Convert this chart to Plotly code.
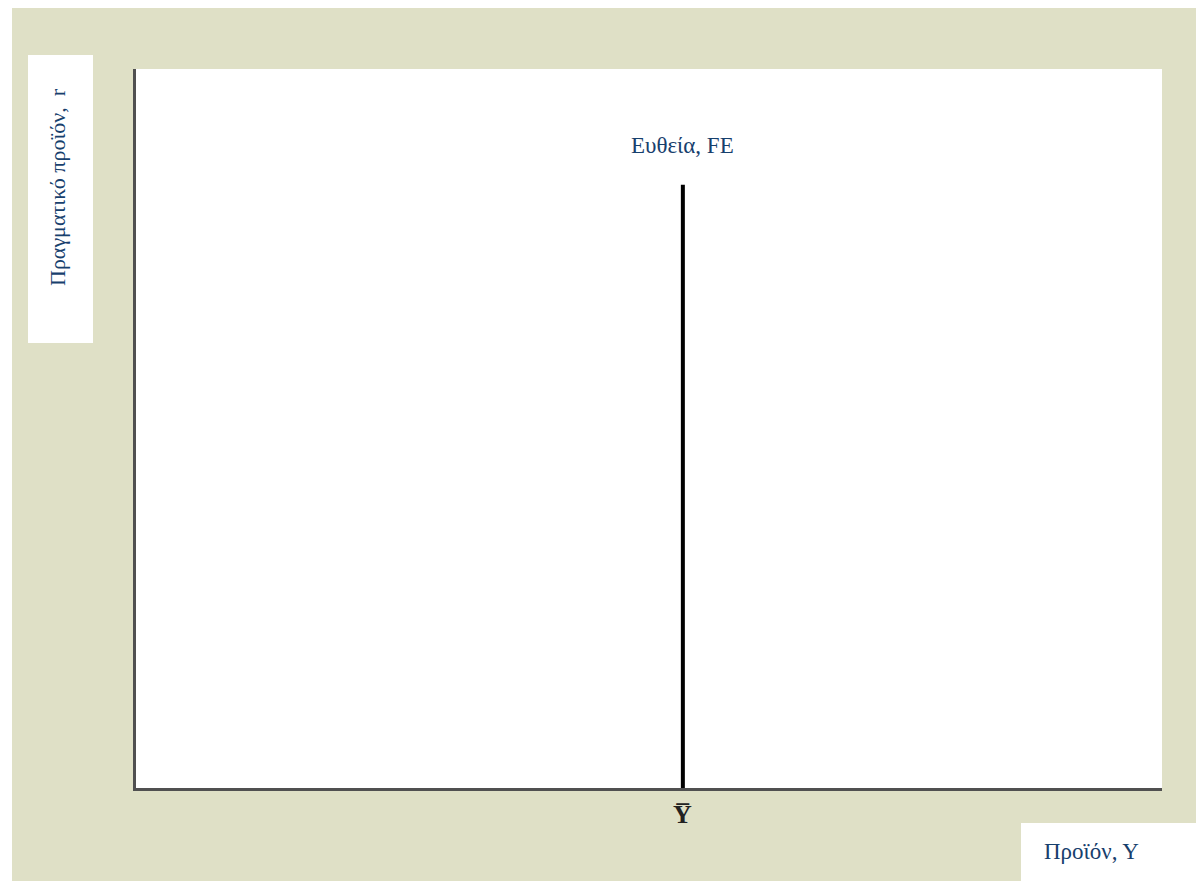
import plotly.graph_objects as go

# Data
y_bar = 5.33            # full-employment output position on the x axis (0-10 scale)
fe_line_x = [y_bar, y_bar]
fe_line_y = [0, 8.39]
fe_label = "Ευθεία, FE"
x_title = "Προϊόν, Υ"
y_title = "Πραγματικό προϊόν,  r"
tick_text = "Y\u0305"

BEIGE = "#DFE0C6"
TXT = "#17406D"
FONT = "Liberation Serif, Times New Roman, serif"

fig = go.Figure()
fig.add_trace(go.Scatter(x=fe_line_x, y=fe_line_y, mode="lines",
                         line=dict(color="#000000", width=4), hoverinfo="skip",
                         showlegend=False))

OFF = 8  # page body margin
W, H = 1204 - OFF, 881 - OFF
L, T = 136 - OFF, 69 - OFF
R = W - (1162 - OFF)
B = H - (788 - OFF)
pw, ph = W - L - R, H - T - B

def px(x):
    return (x - OFF - L) / pw

def py(y):
    return (H - B - (y - OFF)) / ph

shapes = [
    dict(type="rect", xref="paper", yref="paper", x0=px(12), x1=px(1210), y0=py(890), y1=py(7),
         fillcolor=BEIGE, line=dict(width=0), layer="below"),
    dict(type="rect", xref="paper", yref="paper", x0=0, x1=1, y0=0, y1=1,
         fillcolor="#FFFFFF", line=dict(width=0), layer="below"),
    dict(type="rect", xref="paper", yref="paper", x0=px(28), x1=px(93), y0=py(343), y1=py(55),
         fillcolor="#FFFFFF", line=dict(width=0), layer="below"),
    dict(type="rect", xref="paper", yref="paper", x0=px(1021), x1=px(1210), y0=py(890), y1=py(823),
         fillcolor="#FFFFFF", line=dict(width=0), layer="below"),
]

annotations = [
    dict(x=y_bar, xref="x", y=py(145), yref="paper", text=fe_label, showarrow=False,
         font=dict(family=FONT, size=23, color=TXT), xanchor="center", yanchor="middle"),
    dict(x=px(1042), xref="paper", y=py(851), yref="paper", text=x_title, showarrow=False,
         font=dict(family=FONT, size=23, color=TXT), xanchor="left", yanchor="middle"),
    dict(x=px(57), xref="paper", y=py(187), yref="paper", text=y_title, showarrow=False,
         textangle=-90, font=dict(family=FONT, size=22, color=TXT),
         xanchor="center", yanchor="middle"),
    dict(x=y_bar, xref="x", y=py(814), yref="paper", text="<b>" + tick_text + "</b>",
         showarrow=False, font=dict(family=FONT, size=26, color="#222222"),
         xanchor="center", yanchor="middle"),
]

fig.update_layout(
    width=W, height=H,
    margin=dict(l=L, r=R, t=T, b=B),
    paper_bgcolor="#FFFFFF",
    plot_bgcolor="rgba(0,0,0,0)",
    shapes=shapes,
    annotations=annotations,
    showlegend=False,
    xaxis=dict(range=[0, 10], showgrid=False, zeroline=False, showticklabels=False,
               ticks="", showline=True, linecolor="#505050", linewidth=3, fixedrange=True),
    yaxis=dict(range=[0, 10], showgrid=False, zeroline=False, showticklabels=False,
               ticks="", showline=True, linecolor="#505050", linewidth=3, fixedrange=True),
)

fig.write_html("out.html")
